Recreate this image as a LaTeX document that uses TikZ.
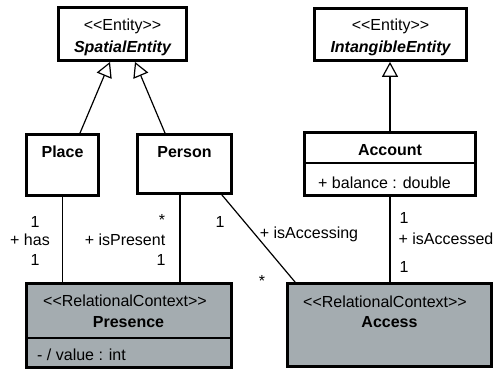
\documentclass[tikz,border=0pt]{standalone}
\usepackage{fontspec}
\setmainfont{Liberation Sans}
\usetikzlibrary{arrows.meta}
\definecolor{ctxgray}{RGB}{164,172,176}
\newcommand{\stereo}[1]{{<}{<}#1{>}{>}}
\begin{document}
\begin{tikzpicture}[x=1pt,y=-1pt,
  classbox/.style={draw=black, line width=2.8pt, fill=white, inner sep=0pt},
  ctxbox/.style={classbox, fill=ctxgray},
  lbl/.style={font=\fontsize{16}{19}\selectfont, inner sep=0pt, anchor=base},
  bold/.style={lbl, font=\fontsize{16}{19}\selectfont\bfseries},
  abst/.style={lbl, font=\fontsize{16}{19}\selectfont\bfseries\itshape},
  conn/.style={line width=1.2pt},
  gen/.style={conn, -{Triangle[open, length=15pt, width=16pt, line width=1.2pt]}},
  divider/.style={line width=1.3pt}]
\useasboundingbox (0,0) rectangle (496,370);

% classes
\node[classbox, minimum width=128pt, minimum height=53pt] (spatial) at (122.5,34) {};
\node[classbox, minimum width=152pt, minimum height=52pt] (intangible) at (390.5,34.5) {};
\node[classbox, minimum width=72pt, minimum height=61pt] (place) at (62.5,165) {};
\node[classbox, minimum width=94pt, minimum height=59pt] (person) at (184.5,164) {};
\node[classbox, minimum width=171pt, minimum height=63pt] (account) at (390,164) {};
\node[ctxbox, minimum width=205pt, minimum height=84pt] (presence) at (129,325.5) {};
\node[ctxbox, minimum width=204pt, minimum height=83pt] (access) at (389.5,325) {};

% compartments
\draw[divider] (account.west |- 0,163) -- (account.east |- 0,163);
\draw[divider] (presence.west |- 0,338) -- (presence.east |- 0,338);

% class texts
\node[lbl] (spatialst) at (122.5,30) {\stereo{Entity}};
\node[abst] (spatialnm) at (122.5,52) {SpatialEntity};
\node[lbl] (intangst) at (390.5,30) {\stereo{Entity}};
\node[abst] (intangnm) at (390.5,52) {IntangibleEntity};
\node[bold] (placenm) at (62.5,157) {Place};
\node[bold] (personnm) at (184.5,157) {Person};
\node[bold] (accountnm) at (390,155) {Account};
\node[lbl, anchor=base west] (accountat) at (318,188) {+ balance : double};
\node[lbl] (presencest) at (125,306) {\stereo{RelationalContext}};
\node[bold] (presencenm) at (128.5,327) {Presence};
\node[lbl, anchor=base west] (presenceat) at (37,360) {- / value : int};
\node[lbl] (accessst) at (385,307) {\stereo{RelationalContext}};
\node[bold] (accessnm) at (389.5,327) {Access};

% generalizations
\draw[gen] ([xshift=17.5pt]place.north) -- ([xshift=-12.5pt]spatial.south);
\draw[gen] ([xshift=-19.5pt]person.north) -- ([xshift=12.5pt]spatial.south);
\draw[gen] (account.north) -- (account.north |- intangible.south);

% associations
\draw[conn] (place.south) -- (place.south |- presence.north);
\draw[conn] ([xshift=-4.5pt]person.south) -- ([xshift=-4.5pt]person.south |- presence.north);
\draw[conn] ([xshift=-11pt]person.south east) -- ([xshift=9pt]access.north west);
\draw[conn] (account.south) -- (account.south |- access.north);

% association ends
\node[lbl] (m1) at (35,227) {1};
\node[lbl] (r1) at (30,245) {+ has};
\node[lbl] (m2) at (35,265) {1};
\node[lbl] (m3) at (162,225) {*};
\node[lbl] (r2) at (125,245) {+ isPresent};
\node[lbl] (m4) at (161,265) {1};
\node[lbl] (m5) at (220,227) {1};
\node[lbl] (r3) at (309,238) {+ isAccessing};
\node[lbl] (m6) at (262,286) {*};
\node[lbl] (m7) at (404,223) {1};
\node[lbl] (r4) at (446,244) {+ isAccessed};
\node[lbl] (m8) at (404,272) {1};
\end{tikzpicture}
\end{document}
